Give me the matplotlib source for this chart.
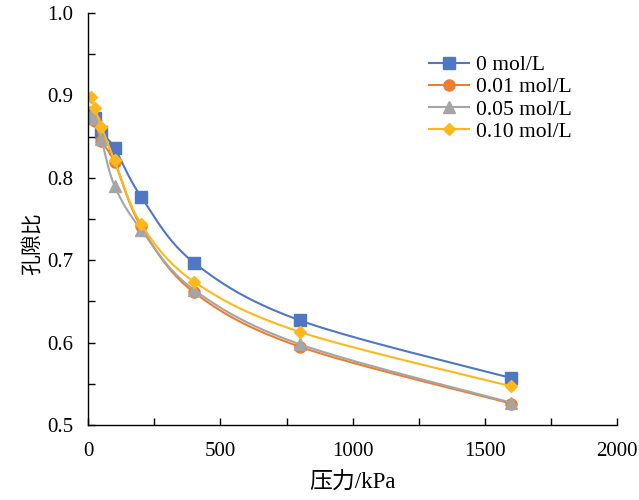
import numpy as np
import matplotlib
matplotlib.use("Agg")
import matplotlib.pyplot as plt
from matplotlib.ticker import MultipleLocator, FormatStrFormatter

plt.rcParams['font.family'] = ['Liberation Serif', 'Noto Sans CJK SC']
plt.rcParams['axes.unicode_minus'] = False

# pressure steps (kPa)
pressure = [12.5, 25, 50, 100, 200, 400, 800, 1600]

# void ratio for each salt concentration
e_0 = [0.879, 0.873, 0.855, 0.836, 0.777, 0.697, 0.627, 0.557]
e_001 = [0.874, 0.869, 0.845, 0.819, 0.741, 0.661, 0.595, 0.526]
e_005 = [0.876, 0.873, 0.847, 0.790, 0.737, 0.664, 0.598, 0.527]
e_010 = [0.898, 0.885, 0.862, 0.821, 0.744, 0.674, 0.613, 0.547]

labels = ['0 mol/L', '0.01 mol/L', '0.05 mol/L', '0.10 mol/L']
colors = ['#4F77C2', '#ED7D31', '#A5A5A5', '#FFB81C']
markers = ['s', 'o', '^', 'D']
msizes = [8, 8, 8, 6.5]


# Excel-like smoothed line: Catmull-Rom bezier in normalised space
def smooth(x, y, xr, yr, n=40):
	px = (np.asarray(x, float) - xr[0]) / (xr[1] - xr[0])
	py = (np.asarray(y, float) - yr[0]) / (yr[1] - yr[0]) * 0.78
	P = np.column_stack([px, py])
	P = np.vstack([P[0], P, P[-1]])
	out = []
	t = np.linspace(0, 1, n)[:, None]
	for i in range(1, len(P) - 2):
		p0, p1, p2, p3 = P[i - 1], P[i], P[i + 1], P[i + 2]
		c1 = p1 + (p2 - p0) / 6.0
		c2 = p2 - (p3 - p1) / 6.0
		seg = ((1 - t) ** 3) * p1 + 3 * ((1 - t) ** 2) * t * c1 + 3 * (1 - t) * t ** 2 * c2 + t ** 3 * p2
		out.append(seg)
	out = np.vstack(out)
	sx = out[:, 0] * (xr[1] - xr[0]) + xr[0]
	sy = out[:, 1] / 0.78 * (yr[1] - yr[0]) + yr[0]
	return sx, sy


fig = plt.figure(figsize=(6.39, 5.0), dpi=100)
ax = fig.add_axes([0.138, 0.15, 0.828, 0.824])

xr = (0, 2000)
yr = (0.5, 1.0)
for ys, lab, c, m, ms in zip([e_0, e_001, e_005, e_010], labels, colors, markers, msizes):
	sx, sy = smooth(pressure, ys, xr, yr)
	ax.plot(sx, sy, color=c, lw=1.5)
	ax.plot(pressure, ys, linestyle='none', marker=m, color=c, ms=ms)
	ax.plot([], [], color=c, lw=1.5, marker=m, ms=ms, label=lab)

ax.set_xlim(*xr)
ax.set_ylim(*yr)
ax.xaxis.set_major_locator(MultipleLocator(500))
ax.xaxis.set_minor_locator(MultipleLocator(250))
ax.yaxis.set_major_locator(MultipleLocator(0.1))
ax.yaxis.set_minor_locator(MultipleLocator(0.05))
ax.yaxis.set_major_formatter(FormatStrFormatter('%.1f'))
ax.tick_params(which='both', direction='in', length=5, width=1, labelsize=15)
ax.tick_params(axis='x', which='major', pad=12)
ax.tick_params(axis='y', which='major', pad=11)
ax.spines['top'].set_visible(False)
ax.spines['right'].set_visible(False)
for s in ['left', 'bottom']:
	ax.spines[s].set_linewidth(1.0)

ax.set_xlabel('压力/kPa', fontsize=16.5)
ax.xaxis.set_label_coords(0.5, -0.115)
ax.set_ylabel('孔隙比', fontsize=15)
ax.yaxis.set_label_coords(-0.085, 0.44)

ax.legend(loc='upper left', bbox_to_anchor=(0.645, 0.898), frameon=False, fontsize=15.5,
	handlelength=1.85, handletextpad=0.3, labelspacing=0.1, borderaxespad=0, borderpad=0)

fig.savefig('out.png', dpi=100)
